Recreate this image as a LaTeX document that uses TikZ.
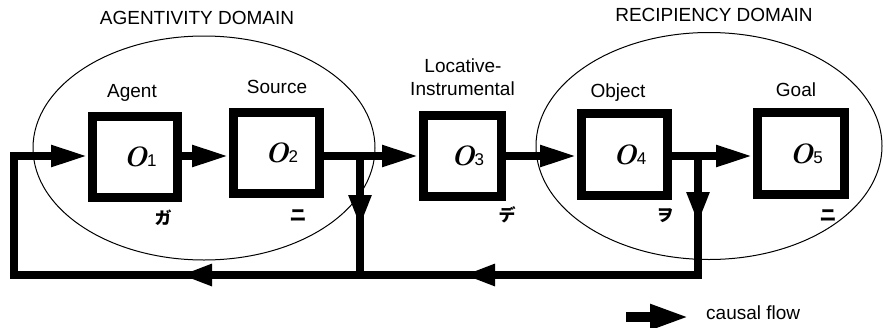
\documentclass[tikz,border=0pt]{standalone}
\usepackage{fontspec}
\setmainfont{Liberation Sans}
\newfontfamily\jpfont{Noto Sans CJK JP}
\newfontfamily\ofont{Latin Modern Roman}
\usetikzlibrary{arrows.meta,shapes.geometric}
\newcommand{\olab}[1]{\hspace*{10pt}{\ofont\fontsize{28}{28}\selectfont\bfseries\itshape O}{\fontsize{17}{17}\selectfont #1}}
\begin{document}
\begin{tikzpicture}[x=1pt,y=-1pt,
  lab/.style={font=\fontsize{19}{19}\selectfont, inner sep=0pt, anchor=base},
  kana/.style={font=\jpfont\bfseries\fontsize{17}{17}\selectfont, inner sep=0pt},
  obox/.style={draw, line width=9pt, minimum width=85pt, minimum height=81pt, inner sep=0pt},
  dom/.style={draw, ellipse, line width=1pt, inner sep=0pt},
  flow/.style={line width=8pt},
  head/.style={-{Triangle[length=37pt,width=20pt]}},
  midhead/.style={-{Triangle[length=32pt,width=21pt]}}]
\useasboundingbox (0,0) rectangle (883,327);

% domains
\node[dom, minimum width=342pt, minimum height=224pt] (domA) at (204,148) {};
\node[dom, minimum width=346pt, minimum height=227pt] (domB) at (709,146) {};
\node[lab] (tA) at (197,24) {AGENTIVITY DOMAIN};
\node[lab] (tB) at (714,21) {RECIPIENCY DOMAIN};

% boxes
\node[obox, minimum width=85pt] (o1) at (135,157) {\olab{1}};
\node[obox, minimum width=86pt] (o2) at (276.5,153) {\olab{2}};
\node[obox, minimum width=78pt] (o3) at (462.5,155.5) {\olab{3}};
\node[obox, minimum width=86pt, minimum height=82pt] (o4) at (624.5,154.5) {\olab{4}};
\node[obox, minimum width=87pt, minimum height=82pt] (o5) at (801,153.5) {\olab{5}};

% role labels
\node[lab] (l1) at (132,97) {Agent};
\node[lab] (l2) at (277,93) {Source};
\node[lab] (l3a) at (463,72) {Locative-};
\node[lab] (l3b) at (462.5,95) {Instrumental};
\node[lab] (l4) at (618,97) {Object};
\node[lab] (l5) at (796,96) {Goal};

% kana
\node[kana] (k1) at (163,218) {ガ};
\node[kana] (k2) at (298,216) {ニ};
\node[kana] (k3) at (507,215) {デ};
\node[kana] (k4) at (665,216) {ヲ};
\node[kana] (k5) at (828,216) {ニ};

% junction coordinates
\coordinate (tl) at (14,156);
\coordinate (bl) at (14,275);
\coordinate (j1) at (360,156);
\coordinate (b1) at (360,275);
\coordinate (m1) at (360,227);
\coordinate (j2) at (698,156);
\coordinate (b2) at (698,275);
\coordinate (m2) at (698,224);
\coordinate (h1s) at (212,275);
\coordinate (h1e) at (180,275);
\coordinate (h2s) at (495,275);
\coordinate (h2e) at (463,275);

% main flow
\draw[flow, head] (o1.east |- tl) -- (o2.west |- tl);
\draw[flow, head] (o2.east |- tl) -- (o3.west |- tl);
\draw[flow, head] (o3.east |- tl) -- (o4.west |- tl);
\draw[flow, head] (o4.east |- tl) -- (o5.west |- tl);

% feedback loop
\draw[flow, line join=miter] (j1) -- (b1);
\draw[flow, line join=miter, head] (j2) -- (b2) -- (bl) -- (tl) -- (o1.west |- tl);
\draw[flow, midhead] (j1) -- (m1);
\draw[flow, midhead] (j2) -- (m2);
\draw[flow, -{Triangle[length=32pt,width=20pt]}] (h1s) -- (h1e);
\draw[flow, -{Triangle[length=32pt,width=20pt]}] (h2s) -- (h2e);

% legend
\coordinate (lg1) at (626,317);
\coordinate (lg2) at (690,317);
\draw[line width=10pt, -{Triangle[length=40pt,width=23pt]}] (lg1) -- (lg2);
\node[lab, anchor=base west] (lgt) at (706,319) {causal flow};
\end{tikzpicture}
\end{document}
